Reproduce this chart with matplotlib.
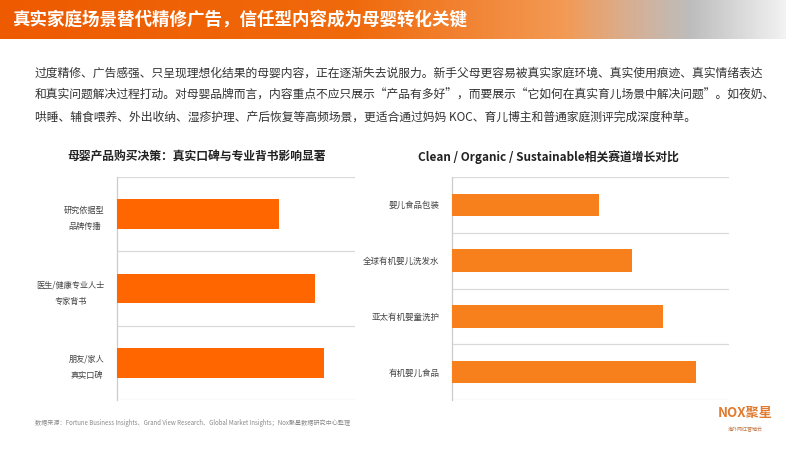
import numpy as np
import matplotlib
matplotlib.use('Agg')
import matplotlib.pyplot as plt
from matplotlib.colors import LinearSegmentedColormap

plt.rcParams['font.family'] = ['Noto Sans CJK SC', 'DejaVu Sans']

# Data
left_title = '母婴产品购买决策：真实口碑与专业背书影响显著'
left_labels = ['研究依据型\n品牌传播', '医生/健康专业人士\n专家背书', '朋友/家人\n真实口碑']
left_values = [68, 83, 87]

right_title = 'Clean / Organic / Sustainable相关赛道增长对比'
right_labels = ['婴儿食品包装', '全球有机婴儿洗发水', '亚太有机婴童洗护', '有机婴儿食品']
right_values = [53, 65, 76, 88]

header = '真实家庭场景替代精修广告，信任型内容成为母婴转化关键'
body_lines = [
    '过度精修、广告感强、只呈现理想化结果的母婴内容，正在逐渐失去说服力。新手父母更容易被真实家庭环境、真实使用痕迹、真实情绪表达',
    '和真实问题解决过程打动。对母婴品牌而言，内容重点不应只展示“产品有多好”，而要展示“它如何在真实育儿场景中解决问题”。如夜奶、',
    '哄睡、辅食喂养、外出收纳、湿疹护理、产后恢复等高频场景，更适合通过妈妈 KOC、育儿博主和普通家庭测评完成深度种草。',
]
source = '数据来源：Fortune Business Insights、Grand View Research、Global Market Insights；Nox聚星数据研究中心整理'

W, H = 799, 450
fig = plt.figure(figsize=(W / 100, H / 100), dpi=100)
fig.patch.set_facecolor('white')

# header gradient band
hax = fig.add_axes([0, 1 - 39 / H, 786 / W, 39 / H])
cmap = LinearSegmentedColormap.from_list('hdr', [
    (0.0, '#EE5A00'), (0.45, '#F06A0C'), (0.72, '#F39A55'),
    (0.80, '#D8AE90'), (0.88, '#BDBDBD'), (1.0, '#F2F2F2')])
hax.imshow(np.linspace(0, 1, 256)[None, :], aspect='auto', cmap=cmap, extent=[0, 1, 0, 1])
hax.set_xlim(0, 1)
hax.set_ylim(0, 1)
hax.axis('off')
fig.text(12 / W, 1 - 20 / H, header, color='white', fontsize=12.6, fontweight='heavy',
         va='center', ha='left')

# body paragraph
for i, line in enumerate(body_lines):
    fig.text(35 / W, 1 - (73 + i * 22) / H, line, fontsize=8.5, color='#333333',
             va='center', ha='left')


def bar_panel(rect, labels, values, color, title, title_x, multiline):
    ax = fig.add_axes(rect)
    n = len(values)
    y = np.arange(n)
    ax.barh(y, values, height=0.4, color=color, zorder=3)
    ax.set_xlim(0, 100)
    ax.set_ylim(n - 0.5, -0.5)
    for k in range(-1, n):
        ax.axhline(k + 0.5, color='#D9D9D9', lw=0.9, zorder=1)
    for s in ['top', 'right', 'bottom']:
        ax.spines[s].set_visible(False)
    ax.spines['left'].set_color('#CCCCCC')
    ax.spines['left'].set_linewidth(0.9)
    ax.set_xticks([])
    ax.set_yticks(y)
    ax.set_yticklabels(labels, fontsize=5.9 if multiline else 6.1, color='#444444',
                       multialignment='center' if multiline else 'right',
                       linespacing=2.0)
    ax.tick_params(axis='y', length=0, pad=9)
    fig.text(title_x / W, 1 - 157 / H, title, fontsize=8.5, fontweight='bold',
             color='#222222', ha='center', va='center')
    return ax


bar_panel([117 / W, 50 / H, 238 / W, 223 / H], left_labels, left_values,
          '#FF6600', left_title, 197, True)
bar_panel([452 / W, 50 / H, 277 / W, 223 / H], right_labels, right_values,
          '#F77F1C', right_title, 548, False)

# footer
fig.text(35 / W, 1 - 423 / H, source, fontsize=4.4, color='#8A8A8A', ha='left', va='center')
fig.text(745 / W, 1 - 413 / H, 'NOX聚星', fontsize=9.5, fontweight='bold', color='#E07A2E',
         ha='center', va='center')
fig.text(745 / W, 1 - 430 / H, '海外网红营销云', fontsize=3.6, color='#C0703A',
         ha='center', va='center')

fig.savefig('out.png', dpi=100)
